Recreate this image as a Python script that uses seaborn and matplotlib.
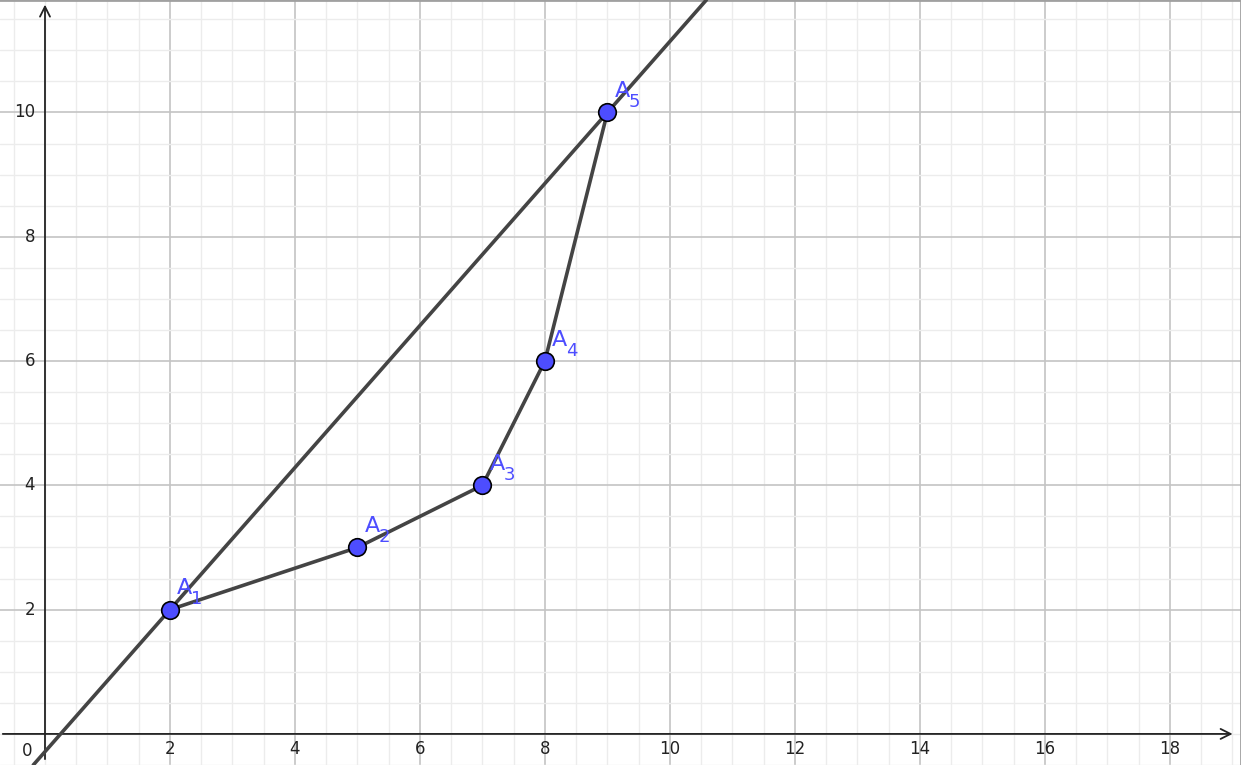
import numpy as np
import pandas as pd
import seaborn as sns
import matplotlib.pyplot as plt

# points of the polyline A1..A5
point_names = ['1', '2', '3', '4', '5']
x_vals = [2, 5, 7, 8, 9]
y_vals = [2, 3, 4, 6, 10]

x_tick_labels = [2, 4, 6, 8, 10, 12, 14, 16, 18]
y_tick_labels = [2, 4, 6, 8, 10]

df = pd.DataFrame({'name': point_names, 'x': x_vals, 'y': y_vals})

sns.set_style('white')
plt.rcParams['font.family'] = ['DejaVu Sans']

fig = plt.figure(figsize=(12.41, 7.65), dpi=100)
ax = fig.add_axes([0, 0, 1, 1])
ax.set_xlim(-0.72, 19.14)
ax.set_ylim(-0.45, 11.81)

# grid
ax.set_xticks(np.arange(-0.5, 19.5, 0.5), minor=True)
ax.set_yticks(np.arange(-0.5, 12, 0.5), minor=True)
ax.set_xticks(x_tick_labels)
ax.set_yticks(y_tick_labels)
ax.grid(which='minor', color='#ececec', linewidth=1)
ax.grid(which='major', color='#c4c4c4', linewidth=1.2)
ax.tick_params(which='both', length=0, labelbottom=False, labelleft=False)
for s in ['left', 'bottom']:
    ax.spines[s].set_visible(False)
for s in ['top', 'right']:
    ax.spines[s].set_color('#a0a0a0')
    ax.spines[s].set_linewidth(2)

# axes with arrows
ax.annotate('', xy=(19.05, 0), xytext=(-0.72, 0),
            arrowprops=dict(arrowstyle='->', color='#222222', lw=1.3, mutation_scale=18))
ax.annotate('', xy=(0, 11.78), xytext=(0, -0.45),
            arrowprops=dict(arrowstyle='->', color='#222222', lw=1.3, mutation_scale=18))

for t in x_tick_labels:
    ax.text(t, -0.25, str(t), ha='center', va='center', fontsize=12, color='#222222')
for t in y_tick_labels:
    ax.text(-0.16, t, str(t), ha='right', va='center', fontsize=12, color='#222222')
ax.text(-0.2, -0.27, '0', ha='right', va='center', fontsize=12, color='#222222')

# line through A1 and A5
ax.axline((x_vals[0], y_vals[0]), (x_vals[-1], y_vals[-1]), color='#444444', linewidth=2.6, zorder=3)

sns.lineplot(data=df, x='x', y='y', sort=False, color='#444444', linewidth=2.6, ax=ax, zorder=3)
sns.scatterplot(data=df, x='x', y='y', s=160, color='#4d4dff', edgecolor='black', linewidth=1.2, ax=ax, zorder=4)

# point labels: "A" with a large, low subscript like GeoGebra
for n, x, y in zip(point_names, x_vals, y_vals):
    ax.annotate('A', (x, y), xytext=(10.5, 15.5), textcoords='offset points',
                fontsize=16, color='#4d4dff', ha='center', va='center', zorder=5)
    ax.annotate(n, (x, y), xytext=(19.5, 7.5), textcoords='offset points',
                fontsize=13, color='#4d4dff', ha='center', va='center', zorder=5)

ax.set_xlabel('')
ax.set_ylabel('')

fig.savefig('out.png', dpi=100)
